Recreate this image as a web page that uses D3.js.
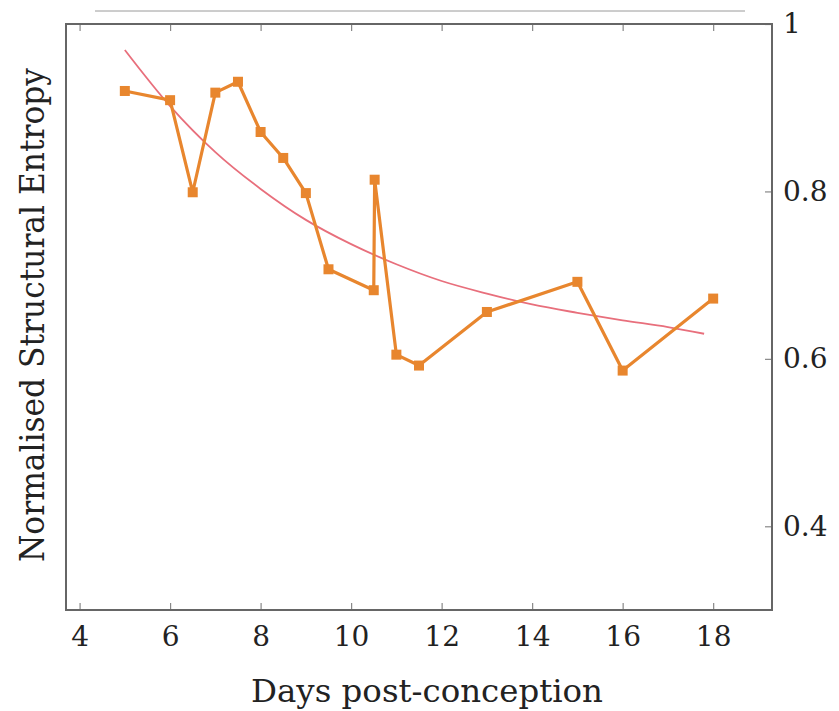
<!DOCTYPE html>
<html>
<head>
<meta charset="utf-8">
<script src="https://cdn.jsdelivr.net/npm/d3@7"></script>
<style>
  body { margin: 0; background: #fff; }
  text { font-family: "DejaVu Serif", "Liberation Serif", serif; fill: #222; }
</style>
</head>
<body>
<svg id="chart" width="839" height="711"></svg>
<script>
// Data
var days = [5, 6, 6.5, 7, 7.5, 8, 8.5, 9, 9.5, 10.5, 10.52, 11, 11.5, 13, 15, 16, 18];
var entropy = [0.920, 0.909, 0.799, 0.918, 0.931, 0.871, 0.840, 0.798, 0.707, 0.682, 0.814, 0.605, 0.592, 0.656, 0.692, 0.586, 0.672];

// fitted trend (pink line), read at a few points
var trendDays = [5, 6, 7, 8, 9, 10, 11, 12, 13, 14, 15, 16, 17, 17.8];
var trendValues = [0.969, 0.902, 0.847, 0.803, 0.766, 0.737, 0.713, 0.693, 0.678, 0.665, 0.655, 0.646, 0.638, 0.630];

var xTicks = [4, 6, 8, 10, 12, 14, 16, 18];
var yTicks = [0.4, 0.6, 0.8, 1];

var svg = d3.select("#chart");

// plot box (note: "top" is taken by window.top, so use a prefix)
var plotLeft = 66, plotRight = 772, plotTop = 24, plotBottom = 610;

var x = d3.scaleLinear().domain([3.7, 19.3]).range([plotLeft, plotRight]);
var y = d3.scaleLinear().domain([0.3, 1.0]).range([plotBottom, plotTop]);

// thin rule above the plot
svg.append("line")
    .attr("x1", 95).attr("x2", 745)
    .attr("y1", 11).attr("y2", 11)
    .style("stroke", "#9a9a9a")
    .style("stroke-width", 1);

// axes, ticks pointing inwards
svg.append("g")
    .attr("transform", "translate(0," + plotBottom + ")")
    .call(d3.axisBottom(x).tickValues(xTicks).tickSize(-7).tickPadding(16));

svg.append("g")
    .attr("transform", "translate(0," + plotTop + ")")
    .call(d3.axisTop(x).tickValues(xTicks).tickSize(-7).tickFormat(""));

svg.append("g")
    .attr("transform", "translate(" + plotRight + ",0)")
    .call(d3.axisRight(y).tickValues(yTicks).tickSize(-7).tickPadding(11)
        .tickFormat(function (d) { return d === 1 ? "1" : d3.format(".1f")(d); }));

svg.selectAll(".domain").remove();
svg.selectAll(".tick line").style("stroke", "#888").style("stroke-width", 1.2);
svg.selectAll(".tick text")
    .style("font-size", "28px")
    .style("font-family", "'DejaVu Serif', serif")
    .style("fill", "#222");

// frame
svg.append("rect")
    .attr("x", plotLeft).attr("y", plotTop)
    .attr("width", plotRight - plotLeft).attr("height", plotBottom - plotTop)
    .style("fill", "none")
    .style("stroke", "#666")
    .style("stroke-width", 2);

// axis labels
svg.append("text")
    .attr("x", 427)
    .attr("y", 702)
    .attr("text-anchor", "middle")
    .attr("textLength", 352)
    .attr("lengthAdjust", "spacingAndGlyphs")
    .style("font-size", "31px")
    .text("Days post-conception");

svg.append("text")
    .attr("transform", "translate(44,315) rotate(-90)")
    .attr("text-anchor", "middle")
    .attr("textLength", 494)
    .attr("lengthAdjust", "spacingAndGlyphs")
    .style("font-size", "33px")
    .text("Normalised Structural Entropy");

// trend line
var trend = trendDays.map(function (d, i) { return [d, trendValues[i]]; });
svg.append("path")
    .datum(trend)
    .attr("d", d3.line()
        .x(function (d) { return x(d[0]); })
        .y(function (d) { return y(d[1]); })
        .curve(d3.curveMonotoneX))
    .style("fill", "none")
    .style("stroke", "#e86f7c")
    .style("stroke-width", 1.8);

// data line
var points = days.map(function (d, i) { return [d, entropy[i]]; });
svg.append("path")
    .datum(points)
    .attr("d", d3.line()
        .x(function (d) { return x(d[0]); })
        .y(function (d) { return y(d[1]); }))
    .style("fill", "none")
    .style("stroke", "#e8862e")
    .style("stroke-width", 3.2)
    .style("stroke-linejoin", "round");

svg.append("g")
    .selectAll("rect")
    .data(points)
    .enter()
    .append("rect")
    .attr("x", function (d) { return x(d[0]) - 5; })
    .attr("y", function (d) { return y(d[1]) - 5; })
    .attr("width", 10)
    .attr("height", 10)
    .style("fill", "#e8862e");
</script>
</body>
</html>
